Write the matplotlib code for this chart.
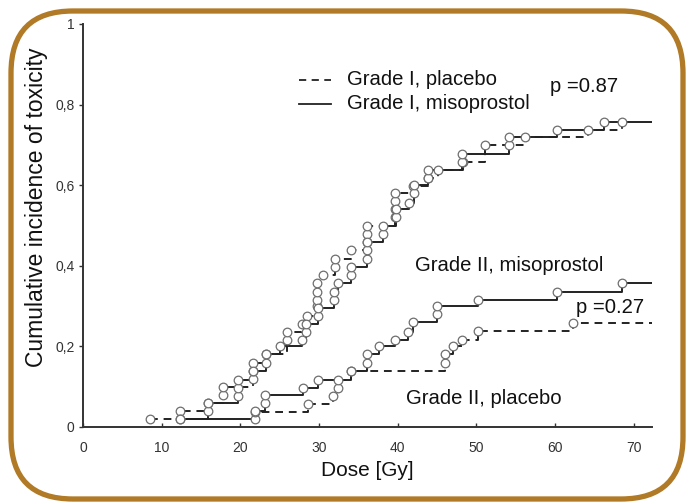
import matplotlib
matplotlib.use("Agg")
import matplotlib.pyplot as plt
from matplotlib.patches import FancyBboxPatch
from matplotlib.transforms import IdentityTransform

plt.rcParams['font.family'] = ['Liberation Sans', 'DejaVu Sans']

# ---- data (dose in Gy, cumulative incidence) ----
g1_placebo_x = [8.5, 12.3, 15.9, 17.8, 17.8, 21.6, 21.6, 21.6, 23.3, 25.9, 25.9, 27.8, 28.5,
                29.7, 29.7, 29.7, 29.7, 30.5, 32.0, 32.0, 34.0, 36.1, 36.1, 36.1,
                39.6, 39.6, 39.6, 39.6, 41.9, 43.8, 45.1, 48.3, 51.1, 56.2, 64.2, 68.5]
g1_placebo_y = [0.02, 0.04, 0.06, 0.08, 0.10, 0.12, 0.14, 0.16, 0.18, 0.216, 0.236, 0.256, 0.276,
                0.30, 0.316, 0.336, 0.358, 0.378, 0.398, 0.418, 0.438, 0.458, 0.478, 0.498,
                0.52, 0.54, 0.56, 0.58, 0.597, 0.617, 0.637, 0.657, 0.70, 0.72, 0.736, 0.756]
g1_placebo_end = 68.8

g1_miso_x = [12.3, 15.9, 15.9, 19.7, 19.7, 19.7, 21.6, 23.3, 23.3, 25.0, 27.8, 28.3, 28.3,
             29.9, 29.9, 31.9, 31.9, 32.4, 34.0, 34.0, 36.1, 36.1, 36.1, 38.1, 38.1,
             39.8, 39.8, 41.4, 42.0, 42.0, 43.8, 43.8, 48.2, 48.2, 54.1, 54.1, 60.2, 66.2]
g1_miso_y = [0.02, 0.04, 0.06, 0.077, 0.097, 0.117, 0.14, 0.16, 0.18, 0.20, 0.216, 0.236, 0.256,
             0.276, 0.296, 0.316, 0.336, 0.358, 0.378, 0.398, 0.418, 0.438, 0.458, 0.478, 0.498,
             0.52, 0.54, 0.557, 0.58, 0.60, 0.617, 0.637, 0.657, 0.677, 0.70, 0.72, 0.736, 0.756]
g1_miso_end = 72.4

g2_miso_x = [12.3, 21.8, 23.1, 23.1, 28.0, 29.9, 34.0, 36.1, 36.1, 37.6, 39.6, 41.3, 41.9,
             45.0, 45.0, 50.2, 60.2, 68.5]
g2_miso_y = [0.02, 0.04, 0.06, 0.08, 0.097, 0.117, 0.14, 0.16, 0.18, 0.20, 0.216, 0.236, 0.26,
             0.28, 0.30, 0.316, 0.336, 0.358]
g2_miso_end = 72.4

g2_placebo_x = [21.8, 21.8, 28.6, 31.8, 32.4, 32.4, 34.0, 46.0, 46.0, 47.0, 48.2, 50.2, 62.3]
g2_placebo_y = [0.02, 0.037, 0.057, 0.077, 0.097, 0.117, 0.14, 0.16, 0.18, 0.20, 0.216, 0.238, 0.258]
g2_placebo_end = 72.4

x_ticks = [0, 10, 20, 30, 40, 50, 60, 70]
y_ticks = [0, 0.2, 0.4, 0.6, 0.8, 1.0]
y_tick_labels = ["0", "0,2", "0,4", "0,6", "0,8", "1"]

W, H = 687, 504
fig = plt.figure(figsize=(W / 100, H / 100), dpi=100)
fig.patch.set_facecolor('white')
ax = fig.add_axes([83 / W, 1 - 427 / H, (652 - 83) / W, (427 - 24) / H])

line_col = '#222222'
mk_edge = '#6e6e6e'
dash = (0, (4, 3))


def draw(xs, ys, xend, ls):
    sx = list(xs) + [xend]
    sy = list(ys) + [ys[-1]]
    ax.step(sx, sy, where='post', color=line_col, lw=1.4, linestyle=ls, zorder=2)
    ax.plot(xs, ys, 'o', ms=6.2, mfc='white', mec=mk_edge, mew=0.9, zorder=3,
            linestyle='none')


draw(g1_placebo_x, g1_placebo_y, g1_placebo_end, dash)
draw(g1_miso_x, g1_miso_y, g1_miso_end, '-')
draw(g2_placebo_x, g2_placebo_y, g2_placebo_end, dash)
draw(g2_miso_x, g2_miso_y, g2_miso_end, '-')

ax.set_xlim(0, 72.3)
ax.set_ylim(0, 1)
ax.set_xticks(x_ticks)
ax.set_yticks(y_ticks)
ax.set_yticklabels(y_tick_labels)
for s in ['top', 'right']:
    ax.spines[s].set_visible(False)
for s in ['left', 'bottom']:
    ax.spines[s].set_color('#333333')
    ax.spines[s].set_linewidth(1.4)
ax.tick_params(axis='x', direction='in', length=3, width=1, labelsize=10, pad=10,
               colors='#333333')
ax.tick_params(axis='y', direction='out', length=3, width=1, labelsize=10, pad=3,
               colors='#333333')
for lab in ax.get_xticklabels() + ax.get_yticklabels():
    lab.set_color('#333333')

ax.set_xlabel('Dose [Gy]', fontsize=15, color='#111111')
ax.xaxis.set_label_coords(0.499, -0.085)
ax.set_ylabel('Cumulative incidence of toxicity', fontsize=16.5, color='#111111')
ax.yaxis.set_label_coords(-0.062, 0.545)

# legend-like annotations
fs = 14.6
ax.plot([27.5, 31.5], [0.862, 0.862], color=line_col, lw=1.3, linestyle=dash)
ax.plot([27.5, 31.5], [0.802, 0.802], color=line_col, lw=1.3, linestyle='-')
ax.text(33.5, 0.862, 'Grade I, placebo', fontsize=fs, va='center', ha='left', color='#111111')
ax.text(33.5, 0.802, 'Grade I, misoprostol', fontsize=fs, va='center', ha='left', color='#111111')
ax.text(59.3, 0.845, 'p =0.87', fontsize=fs, va='center', ha='left', color='#111111')
ax.text(42.2, 0.40, 'Grade II, misoprostol', fontsize=fs, va='center', ha='left', color='#111111')
ax.text(62.7, 0.297, 'p =0.27', fontsize=fs, va='center', ha='left', color='#111111')
ax.text(41.0, 0.07, 'Grade II, placebo', fontsize=fs, va='center', ha='left', color='#111111')

# rounded brown frame
frame = FancyBboxPatch((11, 5), 672, 488,
                       boxstyle="round,pad=0,rounding_size=62",
                       transform=IdentityTransform(), fill=False,
                       edgecolor='#b17a26', linewidth=3.8, zorder=10)
fig.add_artist(frame)

fig.savefig('out.png', dpi=100, facecolor='white')
